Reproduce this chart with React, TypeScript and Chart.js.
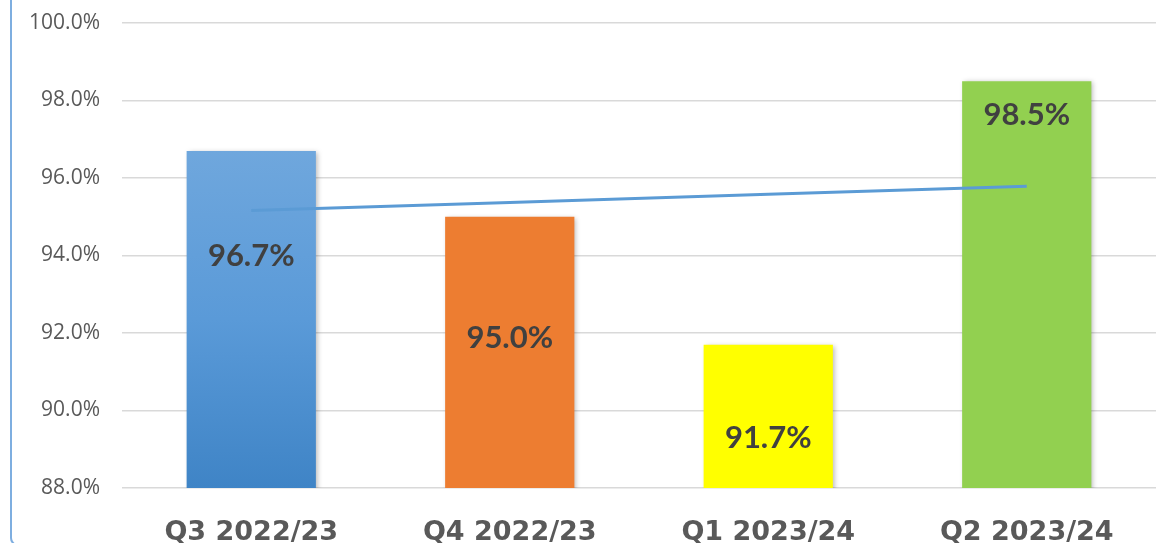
import React, { useEffect, useRef } from "react";
import { Chart, registerables } from "chart.js";

Chart.register(...registerables);

const categories = ["Q3 2022/23", "Q4 2022/23", "Q1 2023/24", "Q2 2023/24"];
const values = [96.7, 95.0, 91.7, 98.5];
const trendValues = [95.16, 95.37, 95.58, 95.79];
const yTicks = { min: 88, max: 100, step: 2 };
const barColors = ["#5B9BD5", "#ED7D31", "#FFFF00", "#92D050"];
// where each value label sits (in axis units)
const labelAnchors = [94.0, 91.87, 89.29, 97.63];

export default function App() {
  const ref = useRef<HTMLCanvasElement | null>(null);

  useEffect(() => {
    if (!ref.current) return;

    const shadowPlugin = {
      id: "barShadow",
      beforeDatasetDraw(chart: any, args: any) {
        if (args.index !== 1) return;
        const ctx = chart.ctx;
        ctx.save();
        ctx.shadowColor = "rgba(0,0,0,0.28)";
        ctx.shadowBlur = 5;
        ctx.shadowOffsetX = 2;
        ctx.shadowOffsetY = 1;
      },
      afterDatasetDraw(chart: any, args: any) {
        if (args.index !== 1) return;
        chart.ctx.restore();
      },
    };

    const labelPlugin = {
      id: "valueLabels",
      afterDatasetsDraw(chart: any) {
        const ctx = chart.ctx;
        const meta = chart.getDatasetMeta(1);
        const yScale = chart.scales.y;
        ctx.save();
        ctx.font = "bold 31px Lato";
        ctx.fillStyle = "#404040";
        ctx.textAlign = "center";
        ctx.textBaseline = "middle";
        meta.data.forEach((el: any, i: number) => {
          const y = yScale.getPixelForValue(labelAnchors[i]);
          ctx.fillText(values[i].toFixed(1) + "%", el.x, y);
        });
        ctx.restore();
      },
    };

    const chart = new Chart(ref.current, {
      type: "bar",
      data: {
        labels: categories,
        datasets: [
          {
            type: "line",
            data: trendValues,
            borderColor: "#5B9BD5",
            borderWidth: 3,
            pointRadius: 0,
            fill: false,
            order: 0,
          } as any,
          {
            type: "bar",
            data: values,
            order: 1,
            barPercentage: 0.5,
            categoryPercentage: 1,
            backgroundColor: (c: any) => {
              const i = c.dataIndex;
              if (i === 0) {
                const chartObj = c.chart;
                const area = chartObj.chartArea;
                if (!area) return barColors[0];
                const top = chartObj.scales.y.getPixelForValue(values[0]);
                const g = chartObj.ctx.createLinearGradient(0, top, 0, area.bottom);
                g.addColorStop(0, "#6FA7DD");
                g.addColorStop(0.5, "#5A9AD8");
                g.addColorStop(1, "#3F84C6");
                return g;
              }
              return barColors[i];
            },
            borderWidth: 0,
          },
        ],
      },
      options: {
        responsive: false,
        animation: false,
        layout: { padding: { top: 23, right: 17, left: 0, bottom: 0 } },
        plugins: {
          legend: { display: false },
          tooltip: { enabled: false },
        },
        scales: {
          x: {
            grid: { display: false },
            border: { display: false },
            ticks: {
              color: "#595959",
              font: { family: "DejaVu Sans", weight: "bold", size: 27 },
              padding: 21,
              maxRotation: 0,
            },
            afterFit: (s: any) => {
              s.height = 55;
            },
          },
          y: {
            min: yTicks.min,
            max: yTicks.max,
            ticks: {
              stepSize: yTicks.step,
              color: "#595959",
              font: { family: "Open Sans", size: 21 },
              padding: 22,
              callback: (v: any) => Number(v).toFixed(1) + "%",
            },
            grid: { color: "#D9D9D9", lineWidth: 1.5, drawTicks: false },
            border: { display: false },
            afterFit: (s: any) => {
              s.width = 122;
              s.paddingTop = 0;
              s.paddingBottom = 0;
            },
          },
        },
      },
      plugins: [shadowPlugin, labelPlugin],
    });

    return () => chart.destroy();
  }, []);

  return (
    <div
      style={{
        position: "fixed",
        left: 0,
        top: 0,
        width: 1173,
        height: 543,
        overflow: "hidden",
        background: "#fff",
      }}
    >
      <div
        style={{
          position: "absolute",
          left: 10,
          top: -20,
          width: 1400,
          height: 566,
          border: "2px solid #7EAEE0",
          borderRadius: 8,
          boxSizing: "border-box",
        }}
      />
      <canvas
        ref={ref}
        width={1173}
        height={543}
        style={{ position: "absolute", left: 0, top: 0, display: "block" }}
      />
    </div>
  );
}
